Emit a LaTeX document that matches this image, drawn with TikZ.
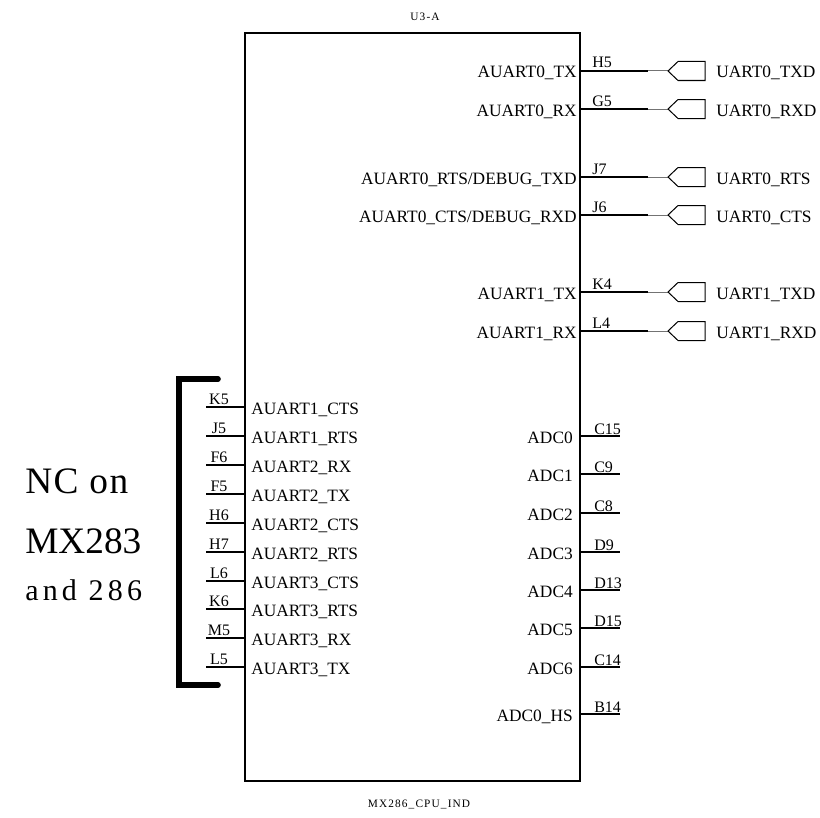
\documentclass[tikz,border=0pt]{standalone}
\usepackage{fontspec}
\setmainfont{Liberation Serif}
\newfontfamily\spacedfont[LetterSpace=10]{Liberation Serif}
\newfontfamily\notefont[LetterSpace=14]{Liberation Serif}
\newfontfamily\widefont[LetterSpace=4]{Liberation Serif}
\usetikzlibrary{positioning}
\tikzset{pinline/.style = {line width=1pt},
         wire/.style = {line width=0.75pt, black!55},
         portbox/.style = {line width=0.75pt},
         pinname/.style = {font=\fontsize{13}{15}\selectfont, inner sep=0pt},
         pinnum/.style = {font=\fontsize{12}{14}\selectfont, inner sep=0pt},
         partlabel/.style = {font=\spacedfont\fontsize{8.5}{10}\selectfont, inner sep=0pt},
         bigtext/.style = {font=\fontsize{28}{32}\selectfont, inner sep=0pt, anchor=base west}}

\begin{document}
\begin{tikzpicture}[x=0.75pt, y=-0.75pt]
      \useasboundingbox (0, 0) rectangle (820, 817);
      \draw [line width=1.5pt] (245, 33) rectangle (580, 781);
      \node [partlabel, anchor=base] (refdes) at (425, 21) {U3-A};
      \node [partlabel, anchor=base] (partname) at (419, 807) {MX286\_CPU\_IND};
      % pins with off-page ports
      \foreach \y/\pin/\sig/\net in {71/H5/AUART0\_TX/UART0\_TXD, 109/G5/AUART0\_RX/UART0\_RXD,
          177/J7/{AUART0\_RTS/DEBUG\_TXD}/UART0\_RTS, 215/J6/{AUART0\_CTS/DEBUG\_RXD}/UART0\_CTS,
          292/K4/AUART1\_TX/UART1\_TXD, 331/L4/AUART1\_RX/UART1\_RXD}{
      \coordinate (in-\pin) at (580, \y);
      \coordinate (out-\pin) at (648, \y);
      \coordinate (tip-\pin) at (668, \y);
      \draw [pinline] (in-\pin) -- (out-\pin);
      \draw [wire] (out-\pin) -- (tip-\pin);
      \draw [portbox] (tip-\pin) -- ++(10, -9.5) -- ++(27, 0) -- ++(0, 19) -- ++(-27, 0) -- cycle;
      \node [pinname, anchor=base east] (sig-\pin) at (577, \y+7) {\sig};
      \node [pinnum, anchor=base west] (num-\pin) at (592, \y-3) {\pin};
      \node [pinname, anchor=base west] (net-\pin) at (716, \y+7) {\net};}
      % left side pins
      \foreach \y/\pin/\sig in {407/K5/AUART1\_CTS, 436/J5/AUART1\_RTS, 465/F6/AUART2\_RX,
          494/F5/AUART2\_TX, 523/H6/AUART2\_CTS, 552/H7/AUART2\_RTS, 581/L6/AUART3\_CTS,
          609/K6/AUART3\_RTS, 638/M5/AUART3\_RX, 667/L5/AUART3\_TX}{
      \coordinate (in-\pin) at (245, \y);
      \coordinate (out-\pin) at (206, \y);
      \draw [pinline] (in-\pin) -- (out-\pin);
      \node [pinname, anchor=base west] (sig-\pin) at (251, \y+7) {\sig};
      \node [pinnum, anchor=base] (num-\pin) at (219, \y-3) {\pin};}
      % adc pins
      \foreach \y/\pin/\sig in {436/C15/ADC0, 474/C9/ADC1, 513/C8/ADC2, 552/D9/ADC3,
          590/D13/ADC4, 628/D15/ADC5, 667/C14/ADC6, 714/B14/ADC0\_HS}{
      \coordinate (in-\pin) at (580, \y);
      \coordinate (out-\pin) at (620, \y);
      \draw [pinline] (in-\pin) -- (out-\pin);
      \node [pinname, anchor=base east] (sig-\pin) at (573, \y+7) {\sig};
      \node [pinnum, anchor=base west] (num-\pin) at (594, \y-2) {\pin};}
      % not connected bracket
      \coordinate (brtop) at (218, 379);
      \coordinate (brbot) at (218, 685);
      \draw [line width=4.2pt, line cap=round] (brtop) -- (179, 379) -- (179, 685) -- (brbot);
      \node [bigtext, font=\widefont\fontsize{28}{32}\selectfont] (ncon) at (25, 493) {NC on};
      \node [bigtext] (ncchip) at (25, 553) {MX283};
      \node [bigtext, font=\notefont\fontsize{22.5}{26}\selectfont] (ncand) at (25, 600) {and 286};
    \end{tikzpicture}
\end{document}
